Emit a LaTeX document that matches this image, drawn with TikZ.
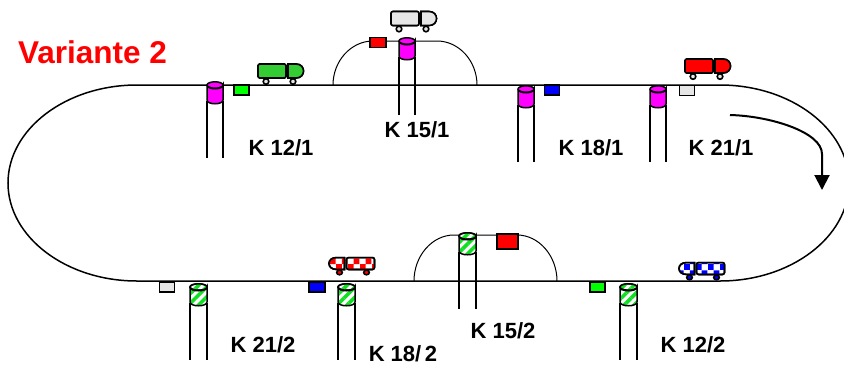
\documentclass[tikz,border=0pt]{standalone}
\usepackage{fontspec}
\setmainfont{Liberation Sans}
\usetikzlibrary{arrows.meta,patterns,patterns.meta}
\definecolor{lightgrey}{HTML}{E6E6E6}
\definecolor{lorrygreen}{HTML}{33CC33}
\definecolor{hatchgreen}{HTML}{11E022}
\definecolor{pinkfill}{HTML}{FF00FF}
\pgfdeclarepatternformonly{bigcheck}{\pgfqpoint{0pt}{0pt}}{\pgfqpoint{12pt}{12pt}}{\pgfqpoint{12pt}{12pt}}{%
  \pgfpathrectangle{\pgfqpoint{0pt}{0pt}}{\pgfqpoint{6pt}{6pt}}%
  \pgfpathrectangle{\pgfqpoint{6pt}{6pt}}{\pgfqpoint{6pt}{6pt}}%
  \pgfusepath{fill}}
\tikzset{
  track/.style={line width=1.5pt},
  stem/.style={line width=1.5pt},
  signalbox/.style={draw,line width=1.5pt,minimum width=#1,minimum height=10pt,inner sep=0pt,outer sep=0pt},
  signalbox/.default=15pt,
  klabel/.style={font=\bfseries\fontsize{22}{22}\selectfont,inner sep=0pt},
  pinkcyl/.style={fill=pinkfill},
  stripecyl/.style={pattern={Lines[angle=45,distance=7pt,line width=3.6pt]},pattern color=hatchgreen},
  redcheck/.style={pattern=bigcheck,pattern color=red},
  bluecheck/.style={pattern=bigcheck,pattern color=blue},
  pics/lorry/.style 2 args={code={
    \draw[line width=1.6pt,fill=#2] (-21,10.5) circle (2.8);
    \draw[line width=1.6pt,fill=#2] (6,10.5) circle (2.8);
    \draw[line width=1.6pt,rounded corners=2pt,fill=white] (-29,-7) rectangle (-1,7);
    \draw[line width=1.6pt,rounded corners=2pt,#1] (-29,-7) rectangle (-1,7);
    \draw[line width=1.6pt,fill=white] (1,-7) -- (9,-7) .. controls (19,-7) and (19,7) .. (9,7) -- (1,7) -- cycle;
    \draw[line width=1.6pt,#1] (1,-7) -- (9,-7) .. controls (19,-7) and (19,7) .. (9,7) -- (1,7) -- cycle;
  }}
}
\begin{document}
\begin{tikzpicture}[x=1pt,y=-1pt]
\clip (0,0) rectangle (844,365);
\fill[white] (0,0) rectangle (844,365);
% main loop
\draw[track] (137,85) -- (720,85) .. controls (791,85) and (849,129) .. (849,183)
  .. controls (849,237) and (791,281) .. (720,281) -- (137,281)
  .. controls (66,281) and (8,237) .. (8,183) .. controls (8,129) and (66,85) .. (137,85);
% passing loops
\draw[line width=1pt] (333,85) .. controls (333,61) and (351,41) .. (373,41) -- (437,41)
  .. controls (459,41) and (477,61) .. (477,85);
\draw[line width=1pt] (414,281) .. controls (414,256) and (432,235) .. (454,235) -- (517,235)
  .. controls (539,235) and (557,256) .. (557,281);
% stems and cylinders
\foreach \xpos/\ytop/\yend in {215/85/158,407/41/115,526/89/162,658/89/162}{
  \draw[stem] (\xpos-8,\ytop+16) -- (\xpos-8,\yend);
  \draw[stem] (\xpos+8,\ytop+16) -- (\xpos+8,\yend);
  \draw[line width=1.5pt,pinkcyl] (\xpos-8,\ytop) -- (\xpos-8,\ytop+15) .. controls (\xpos-8,\ytop+20) and (\xpos+8,\ytop+20) .. (\xpos+8,\ytop+15) -- (\xpos+8,\ytop)
    .. controls (\xpos+8,\ytop+5) and (\xpos-8,\ytop+5) .. (\xpos-8,\ytop);
  \draw[line width=1.5pt,pinkcyl] (\xpos,\ytop) ellipse (8 and 3.2);
}
\foreach \xpos/\ytop/\yend in {198.5/287/360,346.5/287/360,467.5/236/309,628.5/287/360}{
  \draw[stem] (\xpos-8.5,\ytop+16) -- (\xpos-8.5,\yend);
  \draw[stem] (\xpos+8.5,\ytop+16) -- (\xpos+8.5,\yend);
  \fill[white] (\xpos-8.5,\ytop) -- (\xpos-8.5,\ytop+15) .. controls (\xpos-8.5,\ytop+20) and (\xpos+8.5,\ytop+20) .. (\xpos+8.5,\ytop+15) -- (\xpos+8.5,\ytop) -- cycle;
  \draw[line width=1.5pt,stripecyl] (\xpos-8.5,\ytop) -- (\xpos-8.5,\ytop+15) .. controls (\xpos-8.5,\ytop+20) and (\xpos+8.5,\ytop+20) .. (\xpos+8.5,\ytop+15) -- (\xpos+8.5,\ytop)
    .. controls (\xpos+8.5,\ytop+5) and (\xpos-8.5,\ytop+5) .. (\xpos-8.5,\ytop);
  \draw[line width=1.5pt,fill=white] (\xpos,\ytop) ellipse (8.5 and 3.2);
  \draw[line width=1.5pt,stripecyl] (\xpos,\ytop) ellipse (8.5 and 3.2);
}
% signal boxes
\node[signalbox,fill=green] (sigA) at (241.5,90) {};
\node[signalbox,fill=blue] (sigB) at (552,90) {};
\node[signalbox,fill=lightgrey] (sigC) at (687,90.5) {};
\node[signalbox=16pt,fill=red] (sigD) at (378,42.5) {};
\node[signalbox=21pt,fill=red,minimum height=15pt] (sigE) at (507.5,241.5) {};
\node[signalbox,fill=lightgrey] (sigF) at (167,287) {};
\node[signalbox=16pt,fill=blue] (sigG) at (317,287) {};
\node[signalbox,fill=green] (sigH) at (597.5,287) {};
% lorries
\pic at (287,71) {lorry={fill=lorrygreen}{lightgrey}};
\pic at (420,18.5) {lorry={fill=lightgrey}{lightgrey}};
\pic at (714,66) {lorry={fill=red}{lightgrey}};
\pic[xscale=-1,yscale=.85] at (345.5,263.5) {lorry={redcheck}{red}};
\pic[xscale=-1,yscale=.85] at (695.5,268.5) {lorry={bluecheck}{blue}};
% direction arrow
\draw[line width=2pt,-{Triangle[width=15pt,length=15pt]}] (730,115)
  .. controls (770,116) and (822,132) .. (822,154) -- (822,190);
% labels
\node[klabel,text=red,font=\bfseries\fontsize{31.5}{31.5}\selectfont] (title) at (92.5,52) {Variante 2};
\node[klabel] (k121) at (281,148) {K 12/1};
\node[klabel] (k151) at (417,130) {K 15/1};
\node[klabel] (k181) at (591,148) {K 18/1};
\node[klabel] (k211) at (721,148) {K 21/1};
\node[klabel] (k212) at (263,345) {K 21/2};
\node[klabel] (k182) at (403,354) {K 18/\,2};
\node[klabel] (k152) at (503,331) {K 15/2};
\node[klabel] (k122) at (693,345) {K 12/2};
\end{tikzpicture}
\end{document}
